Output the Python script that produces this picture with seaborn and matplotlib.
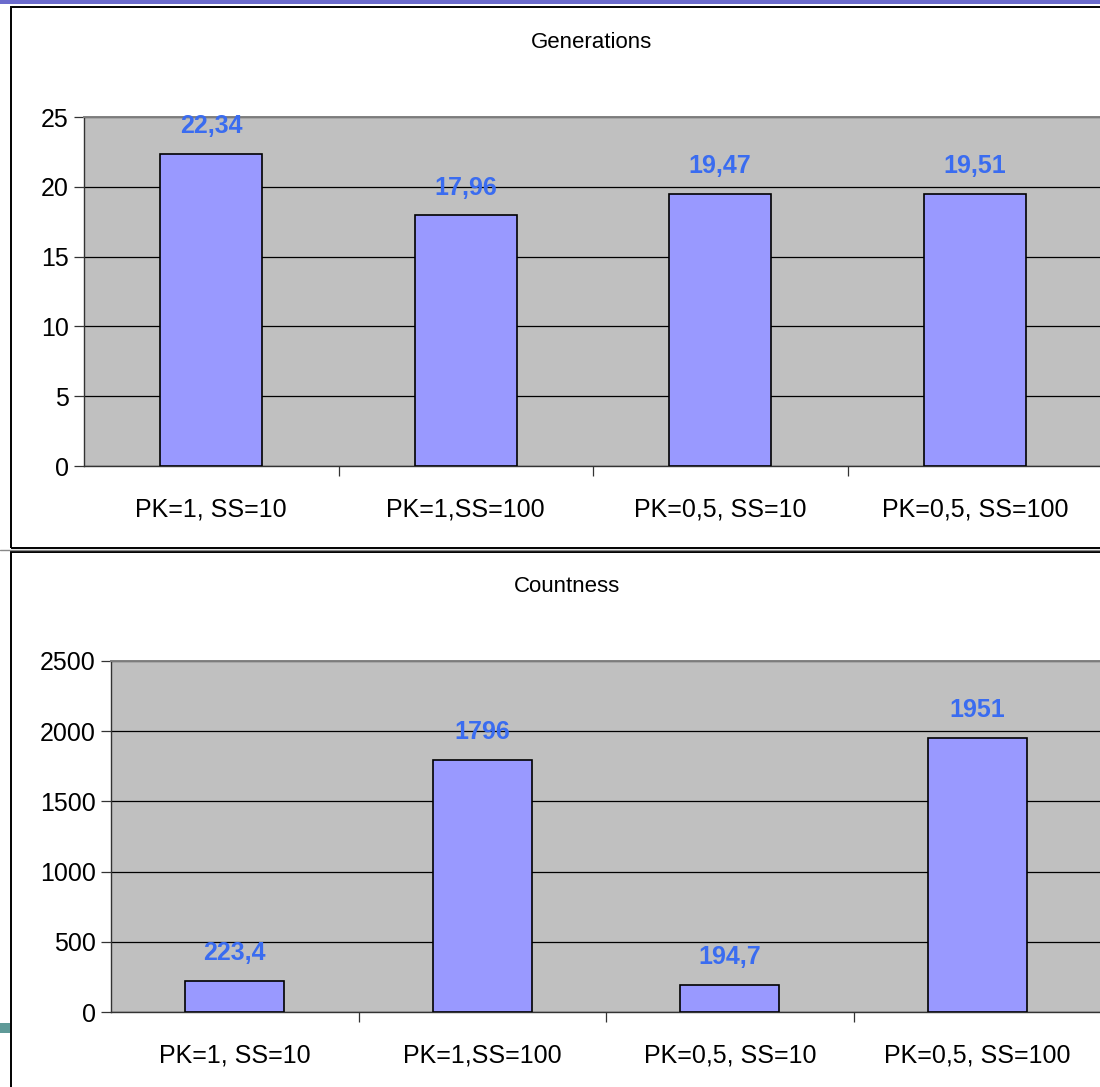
import matplotlib
matplotlib.use("Agg")
import matplotlib.pyplot as plt
from matplotlib.patches import Rectangle
from matplotlib.lines import Line2D
import seaborn as sns
import pandas as pd

categories = ["PK=1, SS=10", "PK=1,SS=100", "PK=0,5, SS=10", "PK=0,5, SS=100"]
generations = [22.34, 17.96, 19.47, 19.51]
countness = [223.4, 1796, 194.7, 1951]

sns.set_theme(style="white")
plt.rcParams["font.family"] = ["Liberation Sans", "DejaVu Sans"]

W, H = 1100, 1087
fig = plt.figure(figsize=(W / 100, H / 100), dpi=100)


def frac(x0, y0, x1, y1):
    return [x0 / W, 1 - y1 / H, (x1 - x0) / W, (y1 - y0) / H]


def fmt(v):
    s = f"{v:.2f}".rstrip("0").rstrip(".")
    return s.replace(".", ",")


def draw_panel(rect, values, ymax, step, title, title_xy):
    ax = fig.add_axes(frac(*rect))
    df = pd.DataFrame({"cat": categories, "val": values})
    sns.barplot(data=df, x="cat", y="val", color="#9999ff", saturation=1,
                edgecolor="black", linewidth=1.2, width=0.4, ax=ax, zorder=3)
    ax.set_facecolor("#c0c0c0")
    ax.set_xlim(-0.5, len(categories) - 0.5)
    ax.set_ylim(0, ymax)
    ticks = list(range(0, ymax + 1, step))
    ax.set_yticks(ticks)
    ax.set_yticklabels([str(t) for t in ticks], fontsize=18, color="black")
    ax.yaxis.grid(True, color="black", linewidth=0.9, zorder=1)
    ax.set_axisbelow(True)
    ax.set_xticks(range(len(categories)))
    ax.set_xticklabels(categories, fontsize=18, color="black")
    ax.set_xticks([i + 0.5 for i in range(len(categories) - 1)], minor=True)
    ax.tick_params(axis="x", which="major", length=0, pad=23)
    ax.tick_params(axis="x", which="minor", length=7, width=0.9,
                   color="#333333", direction="out", bottom=True)
    ax.tick_params(axis="y", length=7, width=0.9, color="#333333",
                   direction="out", left=True, pad=4)
    ax.set_xlabel("")
    ax.set_ylabel("")
    for side in ["top", "right"]:
        ax.spines[side].set_color("#808080")
        ax.spines[side].set_linewidth(1.4)
    for side in ["left", "bottom"]:
        ax.spines[side].set_color("#333333")
        ax.spines[side].set_linewidth(1.0)
    for i, v in enumerate(values):
        ax.annotate(fmt(v), (i, v), xytext=(0, 20), textcoords="offset points",
                    ha="center", va="center", fontsize=18, fontweight="bold",
                    color="#3a6cf0", zorder=5)
    fig.text(title_xy[0] / W, 1 - title_xy[1] / H, title, ha="center",
             va="center", fontsize=16, color="black")
    return ax


draw_panel((84, 117, 1102, 466), generations, 25, 5, "Generations", (592, 42))
draw_panel((111, 661, 1101, 1012), countness, 2500, 500, "Countness", (567, 586))

# chart frames
fig.add_artist(Rectangle((11 / W, 1 - 548 / H), 1.0, (548 - 7) / H,
                         transform=fig.transFigure, fill=False,
                         edgecolor="black", linewidth=1.4))
fig.add_artist(Rectangle((11 / W, -0.05), 1.0, 0.05 + (1 - 552 / H),
                         transform=fig.transFigure, fill=False,
                         edgecolor="black", linewidth=1.4))
fig.add_artist(Line2D([0, 1], [1 - 550 / H, 1 - 550 / H],
                      transform=fig.transFigure, color="#888888", linewidth=1))

# slide decorations
fig.add_artist(Rectangle((0, 1 - 4 / H), 1, 4 / H, transform=fig.transFigure,
                         facecolor="#6b6bcc", edgecolor="none"))
fig.add_artist(Rectangle((0, 1 - 1033 / H), 10 / W, 10 / H,
                         transform=fig.transFigure, facecolor="#5f9a98",
                         edgecolor="none"))

fig.savefig("out.png", dpi=100, facecolor="white")
